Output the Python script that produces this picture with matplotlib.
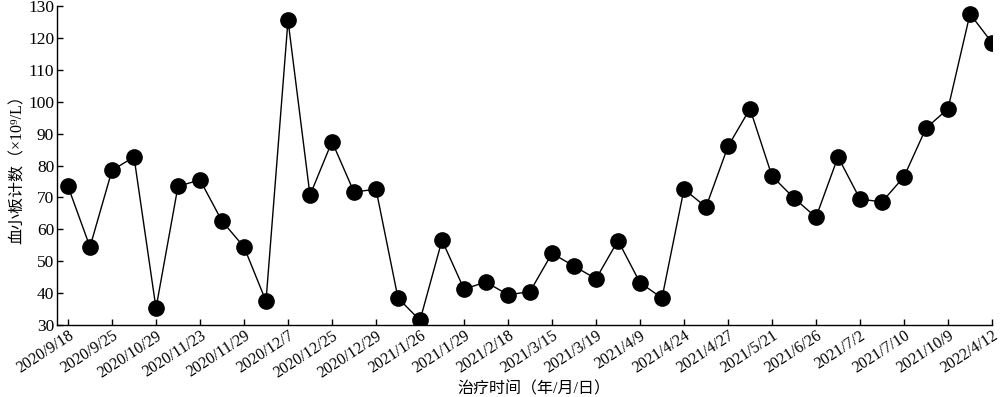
import numpy as np
import matplotlib
matplotlib.use("Agg")
import matplotlib.pyplot as plt

plt.rcParams['font.family'] = ['Liberation Serif', 'Noto Sans CJK SC']

# platelet counts, one per visit
platelet = [73.5, 54.5, 78.5, 82.7, 35.3, 73.5, 75.5, 62.6, 54.5, 37.5,
            125.5, 70.7, 87.5, 71.7, 72.6, 38.5, 31.5, 56.6, 41.3, 43.5,
            39.5, 40.5, 52.5, 48.5, 44.5, 56.5, 43.3, 38.5, 72.6, 67.0,
            86.0, 97.8, 76.7, 69.8, 63.8, 82.7, 69.5, 68.6, 76.5, 91.7,
            97.8, 127.5, 118.5]
# labels shown on every second point
date_labels = ["2020/9/18", "2020/9/25", "2020/10/29", "2020/11/23", "2020/11/29",
               "2020/12/7", "2020/12/25", "2020/12/29", "2021/1/26", "2021/1/29",
               "2021/2/18", "2021/3/15", "2021/3/19", "2021/4/9", "2021/4/24",
               "2021/4/27", "2021/5/21", "2021/6/26", "2021/7/2", "2021/7/10",
               "2021/10/9", "2022/4/12"]
y_ticks = [30, 40, 50, 60, 70, 80, 90, 100, 110, 120, 130]

x = np.arange(len(platelet))

fig = plt.figure(figsize=(10, 3.97), dpi=100)
ax = fig.add_axes([0.057, 0.181, 0.935, 0.804])
ax.plot(x, platelet, color='black', linewidth=1.0, marker='o',
        markersize=11, markerfacecolor='black', markeredgecolor='black')

ax.set_xlim(-0.5, len(platelet) - 1)
ax.set_ylim(30, 130)
ax.set_xticks(x[::2])
ax.set_xticklabels(date_labels, rotation=33, ha='right', rotation_mode='anchor',
                   fontsize=11.5)
ax.set_yticks(y_ticks)
ax.tick_params(axis='y', labelsize=12.5)
ax.tick_params(direction='in', length=4, width=1, pad=2)

ax.spines['top'].set_visible(False)
ax.spines['right'].set_visible(False)
ax.spines['left'].set_linewidth(1)
ax.spines['bottom'].set_linewidth(1)

ax.set_xlabel('治疗时间（年/月/日）', fontsize=11.5, va='center')
ax.xaxis.set_label_coords(0.51, -0.2)
ax.set_ylabel('血小板计数（×10⁹/L）', fontsize=11.5, labelpad=2)

fig.savefig('out.png', dpi=100)
